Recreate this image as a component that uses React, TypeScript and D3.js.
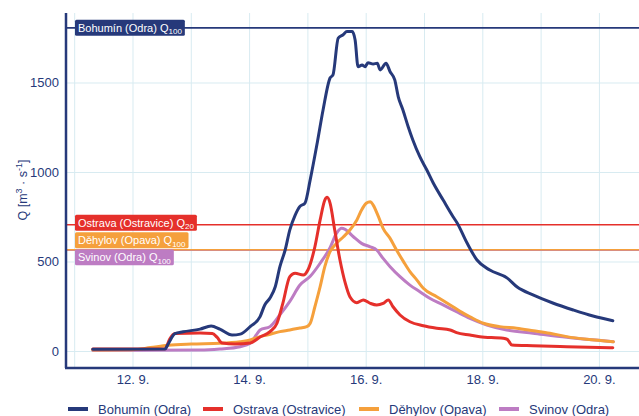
import React, { useEffect, useRef } from "react";
import * as d3 from "d3";

// time in days of September (fractional), discharge Q in m3/s
const bohuminT = [11.31, 12.55, 12.6, 12.72, 12.86, 13.15, 13.34, 13.49, 13.7, 13.84, 14.01, 14.18, 14.26, 14.35, 14.44, 14.52, 14.61, 14.69, 14.78, 14.86, 14.95, 15.04, 15.16, 15.26, 15.38, 15.43, 15.52, 15.6, 15.67, 15.76, 15.81, 15.86, 15.93, 15.98, 16.03, 16.12, 16.19, 16.24, 16.34, 16.41, 16.49, 16.55, 16.63, 16.72, 16.8, 16.92, 17.04, 17.15, 17.32, 17.49, 17.56, 17.73, 17.9, 18.12, 18.42, 18.59, 18.86, 19.2, 19.55, 19.89, 20.23];
const bohuminQ = [12, 14, 40, 100, 110, 125, 142, 125, 92, 97, 139, 195, 260, 299, 362, 474, 567, 679, 760, 809, 829, 960, 1165, 1349, 1528, 1545, 1751, 1768, 1787, 1787, 1740, 1591, 1600, 1591, 1613, 1606, 1610, 1573, 1610, 1563, 1517, 1423, 1349, 1256, 1182, 1088, 1014, 941, 846, 753, 718, 606, 511, 455, 410, 360, 316, 271, 232, 198, 172];

const ostravaT = [11.31, 12.55, 12.63, 12.72, 13.15, 13.36, 13.44, 13.53, 13.75, 14.01, 14.18, 14.35, 14.47, 14.57, 14.69, 14.78, 14.92, 15.0, 15.12, 15.21, 15.29, 15.33, 15.38, 15.46, 15.55, 15.64, 15.72, 15.84, 15.95, 16.07, 16.18, 16.29, 16.38, 16.46, 16.58, 16.75, 16.98, 17.21, 17.44, 17.55, 17.78, 17.95, 18.35, 18.42, 18.5, 18.86, 19.44, 20.23];
const ostravaQ = [14, 15, 70, 100, 103, 100, 80, 47, 42, 47, 81, 111, 158, 269, 418, 437, 427, 455, 585, 735, 846, 861, 829, 679, 511, 383, 306, 273, 288, 269, 260, 269, 288, 250, 204, 166, 144, 130, 120, 105, 92, 83, 74, 68, 36, 32, 27, 21];

const dehylovT = [11.31, 12.0, 12.3, 12.6, 13.0, 13.49, 13.84, 14.01, 14.18, 14.3, 14.52, 14.69, 14.86, 14.98, 15.04, 15.12, 15.21, 15.29, 15.38, 15.49, 15.61, 15.72, 15.84, 15.92, 16.0, 16.07, 16.12, 16.21, 16.29, 16.41, 16.52, 16.64, 16.75, 16.87, 16.98, 17.21, 17.44, 17.67, 17.78, 18.01, 18.29, 18.58, 18.87, 19.15, 19.44, 19.78, 20.24];
const dehylovQ = [8, 10, 22, 35, 42, 46, 55, 64, 83, 92, 111, 120, 131, 139, 158, 250, 362, 474, 558, 604, 641, 679, 735, 790, 828, 837, 818, 753, 688, 632, 567, 502, 446, 399, 353, 306, 260, 213, 194, 158, 139, 130, 116, 102, 83, 68, 55];

const svinovT = [11.31, 13.15, 13.49, 13.84, 14.01, 14.13, 14.18, 14.35, 14.52, 14.69, 14.86, 15.04, 15.21, 15.38, 15.49, 15.58, 15.64, 15.78, 15.92, 16.07, 16.18, 16.29, 16.41, 16.58, 16.75, 16.92, 17.09, 17.32, 17.55, 17.78, 18.07, 18.41, 18.86, 19.44, 20.24];
const svinovQ = [5, 8, 14, 27, 46, 100, 120, 139, 205, 280, 370, 420, 493, 580, 660, 688, 682, 641, 604, 585, 567, 520, 474, 418, 371, 334, 297, 260, 222, 185, 148, 120, 102, 79, 55];

const seriesNames = ["Bohumín (Odra)", "Ostrava (Ostravice)", "Děhylov (Opava)", "Svinov (Odra)"];
const seriesColors = ["#26397a", "#e5302b", "#f5a03c", "#bd7cc3"];

// flood thresholds
const thresholdNames = ["Bohumín (Odra) Q", "Ostrava (Ostravice) Q", "Děhylov (Opava) Q", "Svinov (Odra) Q"];
const thresholdSubs = ["100", "20", "100", "100"];
const thresholdValues = [1808, 708, 568, 566];

const xTicks = [12, 14, 16, 18, 20];
const xGrid = [11, 12, 13, 14, 15, 16, 17, 18, 19, 20];
const yTicks = [0, 500, 1000, 1500];

const W = 639;
const H = 416;
const FONT = "'Liberation Sans', Arial, Helvetica, sans-serif";
const NAVY = "#26397a";

export default function App() {
  const ref = useRef<SVGSVGElement>(null);

  useEffect(() => {
    const svg = d3.select(ref.current);
    svg.selectAll("*").remove();

    const left = 66, right = W, top = 13, bottom = 368;
    const x = d3.scaleLinear().domain([10.851, 20.679]).range([left, right]);
    const y = d3.scaleLinear().domain([-92.2, 1891]).range([bottom, top]);

    const g = svg.append("g");

    // grid
    g.selectAll(".vg").data(xGrid).join("line")
      .attr("x1", (d) => x(d)).attr("x2", (d) => x(d))
      .attr("y1", top).attr("y2", bottom)
      .attr("stroke", "#d8ebf1").attr("stroke-width", 1);
    g.selectAll(".hg").data(yTicks).join("line")
      .attr("x1", left).attr("x2", right)
      .attr("y1", (d) => y(d)).attr("y2", (d) => y(d))
      .attr("stroke", "#d8ebf1").attr("stroke-width", 1);

    // threshold lines (draw Svinov under Děhylov)
    const thOrder = [0, 1, 3, 2];
    thOrder.forEach((i) => {
      g.append("line")
        .attr("x1", left).attr("x2", right)
        .attr("y1", y(thresholdValues[i])).attr("y2", y(thresholdValues[i]))
        .attr("stroke", seriesColors[i]).attr("stroke-width", 1.6);
    });

    // series
    const ts = [bohuminT, ostravaT, dehylovT, svinovT];
    const qs = [bohuminQ, ostravaQ, dehylovQ, svinovQ];
    const line = d3.line<[number, number]>()
      .x((d) => x(d[0])).y((d) => y(d[1]))
      .curve(d3.curveMonotoneX);
    [3, 2, 1, 0].forEach((i) => {
      const pts = ts[i].map((t, k) => [t, qs[i][k]] as [number, number]);
      g.append("path")
        .attr("d", line(pts) as string)
        .attr("fill", "none")
        .attr("stroke", seriesColors[i])
        .attr("stroke-width", 3)
        .attr("stroke-linejoin", "round")
        .attr("stroke-linecap", "round");
    });

    // threshold labels
    const boxH = 16;
    const boxTops = [
      y(thresholdValues[0]) - boxH / 2,
      y(thresholdValues[1]) - 10,
      y(thresholdValues[2]) - boxH - 1.5,
      y(thresholdValues[3]) - 1,
    ];
    thresholdNames.forEach((name, i) => {
      const lg = g.append("g").attr("transform", `translate(75,${boxTops[i]})`);
      const rect = lg.append("rect").attr("height", boxH).attr("rx", 1.5).attr("fill", seriesColors[i]);
      const txt = lg.append("text")
        .attr("x", 3).attr("y", 12)
        .attr("fill", "#ffffff")
        .style("font-family", FONT).style("font-size", "11px");
      txt.append("tspan").text(name);
      txt.append("tspan").attr("dy", 2.5).style("font-size", "8px").text(thresholdSubs[i]);
      const w = (txt.node() as SVGTextElement).getComputedTextLength();
      rect.attr("width", w + 6);
    });

    // axes lines
    g.append("line").attr("x1", left).attr("x2", left).attr("y1", top).attr("y2", bottom)
      .attr("stroke", NAVY).attr("stroke-width", 2.5);
    g.append("line").attr("x1", left - 1).attr("x2", right).attr("y1", bottom).attr("y2", bottom)
      .attr("stroke", NAVY).attr("stroke-width", 2.5);

    // tick labels
    g.selectAll(".xt").data(xTicks).join("text")
      .attr("x", (d) => x(d)).attr("y", 384)
      .attr("text-anchor", "middle")
      .attr("fill", NAVY)
      .style("font-family", FONT).style("font-size", "13px")
      .text((d) => `${d}. 9.`);
    g.selectAll(".yt").data(yTicks).join("text")
      .attr("x", 59).attr("y", (d) => y(d) + 4.5)
      .attr("text-anchor", "end")
      .attr("fill", NAVY)
      .style("font-family", FONT).style("font-size", "13px")
      .text((d) => String(d));

    // y title
    const yt = g.append("text")
      .attr("transform", "translate(27,190) rotate(-90)")
      .attr("text-anchor", "middle")
      .attr("fill", NAVY)
      .style("font-family", FONT).style("font-size", "12.5px");
    yt.append("tspan").text("Q [m");
    yt.append("tspan").attr("dy", -5).style("font-size", "9px").text("3");
    yt.append("tspan").attr("dy", 5).text(" · s");
    yt.append("tspan").attr("dy", -5).style("font-size", "9px").text("-1");
    yt.append("tspan").attr("dy", 5).text("]");

    // legend
    const legX = [68, 203, 359, 499];
    seriesNames.forEach((name, i) => {
      g.append("line")
        .attr("x1", legX[i]).attr("x2", legX[i] + 20)
        .attr("y1", 409).attr("y2", 409)
        .attr("stroke", seriesColors[i]).attr("stroke-width", 4);
      g.append("text")
        .attr("x", legX[i] + 30).attr("y", 413.5)
        .attr("fill", NAVY)
        .style("font-family", FONT).style("font-size", "13px")
        .text(name);
    });
  }, []);

  return (
    <svg
      ref={ref}
      width={W}
      height={H}
      style={{ position: "absolute", left: 0, top: 0, background: "#ffffff", display: "block" }}
    />
  );
}
